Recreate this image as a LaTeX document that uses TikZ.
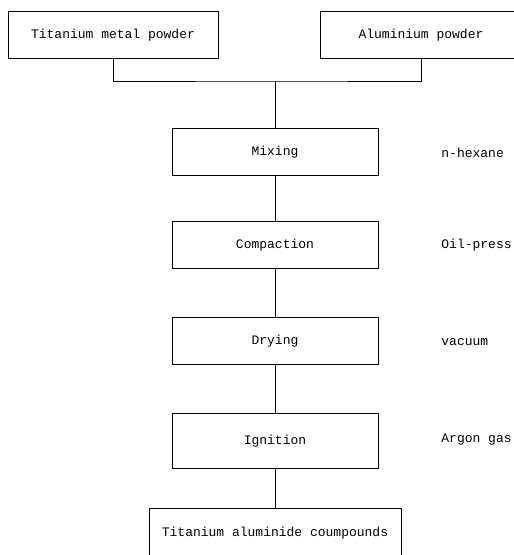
\documentclass[tikz,border=0pt]{standalone}
\usepackage{fontspec}
\setmonofont{Liberation Mono}
\usepackage{tikz}

\tikzset{
  stepbox/.style={draw, line width=0.8pt, minimum width=206pt, minimum height=47pt, inner sep=0pt},
  note/.style={anchor=west, inner sep=0pt},
}

\begin{document}
\begin{tikzpicture}[x=1pt, y=-1pt, line width=0.8pt,
    font=\ttfamily\fontsize{13}{15}\selectfont]
  \useasboundingbox (0,0) rectangle (514,555);

  % powders
  \node[stepbox, minimum width=210pt] (ti) at (113,35) {Titanium metal powder};
  \node[stepbox, minimum width=202pt] (al) at (421,35) {Aluminium powder};

  \foreach \n/\t/\y/\h in {
    % process steps
    mix/Mixing/152/47,
    comp/Compaction/245/47,
    dry/Drying/341/47,
    ign/Ignition/441/55%
  } { \node[stepbox, minimum height=\h pt] (\n) at (275,\y) {\t}; }

  % product
  \node[stepbox, minimum width=252pt, minimum height=50pt] (prod) at (275,533) {Titanium aluminide coumpounds};

  % conditions
  \foreach \n/\t/\y in {
    hexane/n-hexane/153,
    press/Oil-press/245,
    vac/vacuum/342,
    argon/Argon gas/440%
  } { \node[note] (\n) at (441,\y) {\t}; }

  % connections
  \coordinate (join) at (275,81);
  \draw (ti.south) |- (join) -| (al.south);
  \foreach \a/\b in {
    join/mix,
    mix/comp,
    comp/dry,
    dry/ign,
    ign/prod%
  } { \draw (\a) -- (\b); }
\end{tikzpicture}
\end{document}
